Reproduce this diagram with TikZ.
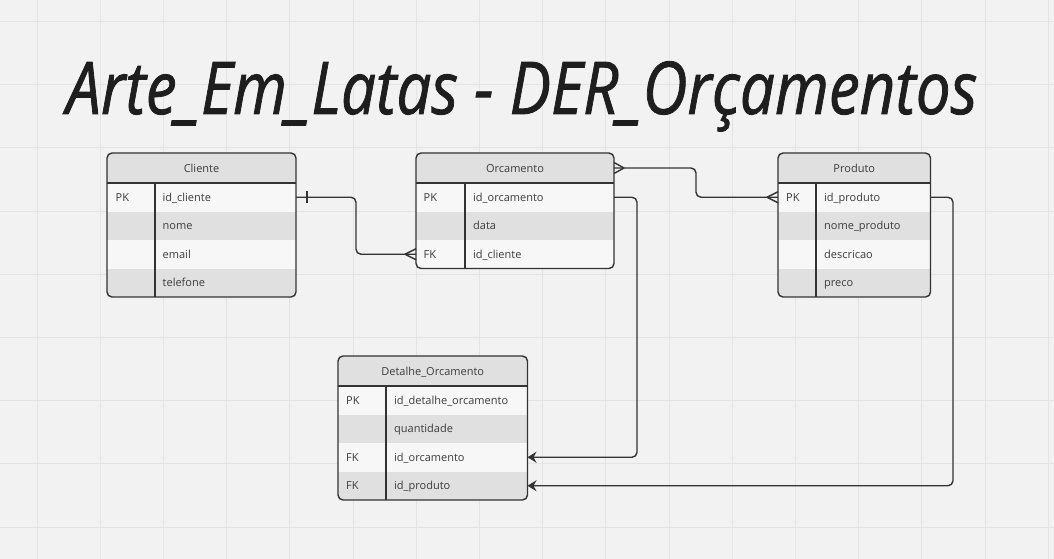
\documentclass[tikz,border=0pt]{standalone}
\usepackage{fontspec}
\setmainfont{Open Sans}
\usepackage{graphicx}
\usetikzlibrary{arrows.meta}
\definecolor{bg}{HTML}{F2F2F2}
\definecolor{gridc}{HTML}{E4E4E4}
\definecolor{hdrc}{HTML}{E0E0E0}
\definecolor{ltc}{HTML}{F7F7F7}
\definecolor{dkc}{HTML}{E0E0E0}
\definecolor{linec}{HTML}{333333}
\definecolor{txtc}{HTML}{3C3C3C}
\definecolor{titlec}{HTML}{1E1E1E}
\tikzset{
  cell/.style={draw=none, inner sep=0pt, outer sep=0pt, anchor=north west},
  hdrrow/.style={cell, fill=hdrc},
  ltrow/.style={cell, fill=ltc},
  dkrow/.style={cell, fill=dkc},
  lbl/.style={inner sep=0pt, font=\fontsize{11}{13}\selectfont, text=txtc},
  hdrlbl/.style={lbl, anchor=base},
  keylbl/.style={lbl, anchor=base west},
  border/.style={draw=linec, line width=1.4pt, rounded corners=5pt},
  sep/.style={draw=linec, line width=1.4pt},
  conn/.style={draw=linec, line width=1.4pt, rounded corners=5pt},
  arr/.style={conn, -{Stealth[length=9pt, width=11pt, inset=3pt]}},
  crow/.style={draw=linec, line width=1.4pt},
}
\begin{document}
\begin{tikzpicture}[x=1pt, y=-1pt]
\useasboundingbox (0,0) rectangle (1054,559);
\fill[bg] (0,0) rectangle (1054,559);
% grid
\foreach \k in {0,...,16} {
  \draw[gridc, line width=1pt] ({37+63.2*\k},0) -- ({37+63.2*\k},559);
}
\foreach \k in {0,...,8} {
  \draw[gridc, line width=1pt] (0,{21.5+63.2*\k}) -- (1054,{21.5+63.2*\k});
}
% title
\node[anchor=base west, inner sep=0pt, text=titlec] (title) at (66,114)
  {\resizebox{911pt}{\height}{\fontsize{72.8}{80}\selectfont\itshape\addfontfeatures{FakeBold=1.2}Arte\_Em\_Latas - DER\_Orçamentos}};

% ---------- Cliente ----------
\begin{scope}
\clip[rounded corners=5pt] (107,153) rectangle (296,297);
\node[hdrrow, minimum width=189pt, minimum height=30pt] (cl-h) at (107,153) {};
\node[ltrow, minimum width=189pt, minimum height=28.5pt] (cl-r1) at (107,183) {};
\node[dkrow, minimum width=189pt, minimum height=28.5pt] (cl-r2) at (107,211.5) {};
\node[ltrow, minimum width=189pt, minimum height=28.5pt] (cl-r3) at (107,240) {};
\node[dkrow, minimum width=189pt, minimum height=28.5pt] (cl-r4) at (107,268.5) {};
\end{scope}
\draw[border] (107,153) rectangle (296,297);
\draw[sep] (cl-h.south west) -- (cl-h.south east);
\draw[sep] (155,183) -- (155,297);
\node[hdrlbl] (cl-t) at (201.5,172) {Cliente};
\node[keylbl] (cl-k1) at (115.5,201.25) {PK};
\node[keylbl] (cl-f1) at (162.5,201.25) {id\_cliente};
\node[keylbl] (cl-f2) at (162.5,229.75) {nome};
\node[keylbl] (cl-f3) at (162.5,258.25) {email};
\node[keylbl] (cl-f4) at (162.5,286.75) {telefone};

% ---------- Orcamento ----------
\begin{scope}
\clip[rounded corners=5pt] (416,153) rectangle (614,268.5);
\node[hdrrow, minimum width=198pt, minimum height=30pt] (or-h) at (416,153) {};
\node[ltrow, minimum width=198pt, minimum height=28.5pt] (or-r1) at (416,183) {};
\node[dkrow, minimum width=198pt, minimum height=28.5pt] (or-r2) at (416,211.5) {};
\node[ltrow, minimum width=198pt, minimum height=28.5pt] (or-r3) at (416,240) {};
\end{scope}
\draw[border] (416,153) rectangle (614,268.5);
\draw[sep] (or-h.south west) -- (or-h.south east);
\draw[sep] (465,183) -- (465,268.5);
\node[hdrlbl] (or-t) at (515,172) {Orcamento};
\node[keylbl] (or-k1) at (423.5,201.25) {PK};
\node[keylbl] (or-k3) at (423.5,258.25) {FK};
\node[keylbl] (or-f1) at (473,201.25) {id\_orcamento};
\node[keylbl] (or-f2) at (473,229.75) {data};
\node[keylbl] (or-f3) at (473,258.25) {id\_cliente};

% ---------- Produto ----------
\begin{scope}
\clip[rounded corners=5pt] (778,153) rectangle (930.5,297);
\node[hdrrow, minimum width=152.5pt, minimum height=30pt] (pr-h) at (778,153) {};
\node[ltrow, minimum width=152.5pt, minimum height=28.5pt] (pr-r1) at (778,183) {};
\node[dkrow, minimum width=152.5pt, minimum height=28.5pt] (pr-r2) at (778,211.5) {};
\node[ltrow, minimum width=152.5pt, minimum height=28.5pt] (pr-r3) at (778,240) {};
\node[dkrow, minimum width=152.5pt, minimum height=28.5pt] (pr-r4) at (778,268.5) {};
\end{scope}
\draw[border] (778,153) rectangle (930.5,297);
\draw[sep] (pr-h.south west) -- (pr-h.south east);
\draw[sep] (816,183) -- (816,297);
\node[hdrlbl] (pr-t) at (854.25,172) {Produto};
\node[keylbl] (pr-k1) at (786,201.25) {PK};
\node[keylbl] (pr-f1) at (824,201.25) {id\_produto};
\node[keylbl] (pr-f2) at (824,229.75) {nome\_produto};
\node[keylbl] (pr-f3) at (824,258.25) {descricao};
\node[keylbl] (pr-f4) at (824,286.75) {preco};

% ---------- Detalhe_Orcamento ----------
\begin{scope}
\clip[rounded corners=5pt] (338,356) rectangle (527.5,500);
\node[hdrrow, minimum width=189.5pt, minimum height=30pt] (de-h) at (338,356) {};
\node[ltrow, minimum width=189.5pt, minimum height=28.5pt] (de-r1) at (338,386) {};
\node[dkrow, minimum width=189.5pt, minimum height=28.5pt] (de-r2) at (338,414.5) {};
\node[ltrow, minimum width=189.5pt, minimum height=28.5pt] (de-r3) at (338,443) {};
\node[dkrow, minimum width=189.5pt, minimum height=28.5pt] (de-r4) at (338,471.5) {};
\end{scope}
\draw[border] (338,356) rectangle (527.5,500);
\draw[sep] (de-h.south west) -- (de-h.south east);
\draw[sep] (386,386) -- (386,500);
\node[hdrlbl] (de-t) at (432.75,375) {Detalhe\_Orcamento};
\node[keylbl] (de-k1) at (346,404.25) {PK};
\node[keylbl] (de-k3) at (346,461.25) {FK};
\node[keylbl] (de-k4) at (346,489.75) {FK};
\node[keylbl] (de-f1) at (394,404.25) {id\_detalhe\_orcamento};
\node[keylbl] (de-f2) at (394,432.75) {quantidade};
\node[keylbl] (de-f3) at (394,461.25) {id\_orcamento};
\node[keylbl] (de-f4) at (394,489.75) {id\_produto};

% ---------- connectors ----------
% Cliente (one) -> Orcamento (many)
\draw[conn] (cl-r1.east) -- ++(60,0) |- (or-r3.west);
\draw[crow] (cl-r1.east) ++(11,-6) -- ++(0,12);
\draw[crow] (or-r3.west) ++(-11,0) -- ++(11,-5.5);
\draw[crow] (or-r3.west) ++(-11,0) -- ++(11,5.5);
% Orcamento (many) -> Produto (many)
\draw[conn] (or-h.east) -- ++(82,0) |- (pr-r1.west);
\draw[crow] (or-h.east) ++(10,0) -- ++(-10,-5.5);
\draw[crow] (or-h.east) ++(10,0) -- ++(-10,5.5);
\draw[crow] (pr-r1.west) ++(-11,0) -- ++(11,-5.5);
\draw[crow] (pr-r1.west) ++(-11,0) -- ++(11,5.5);
% Orcamento -> Detalhe (id_orcamento)
\draw[arr] (or-r1.east) -- ++(23,0) |- (de-r3.east);
% Produto -> Detalhe (id_produto)
\draw[arr] (pr-r1.east) -- ++(22.5,0) |- (de-r4.east);
\end{tikzpicture}
\end{document}
